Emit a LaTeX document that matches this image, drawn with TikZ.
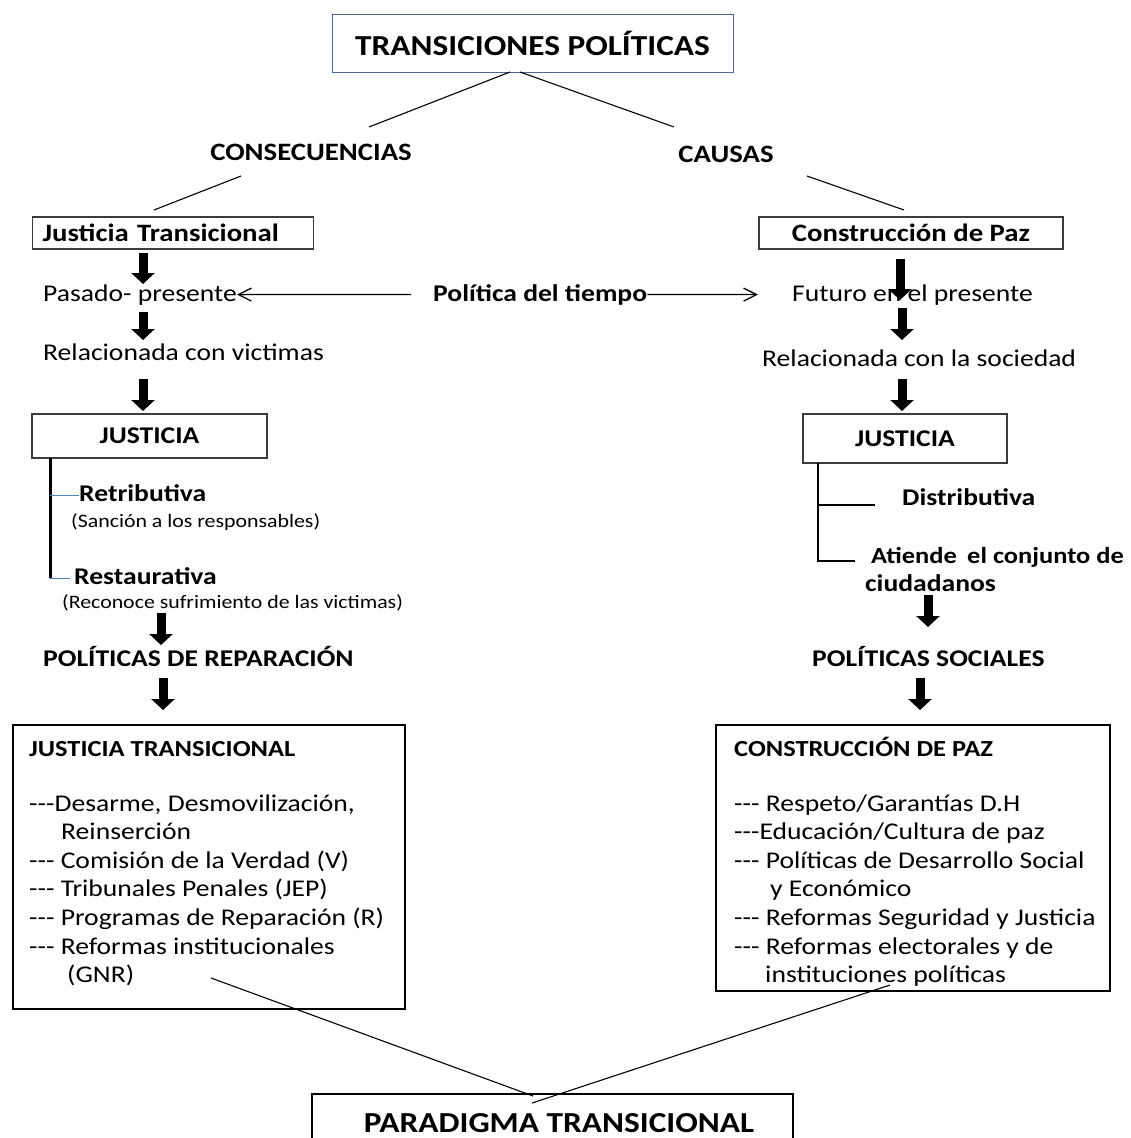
\documentclass[tikz,border=0pt]{standalone}
\usepackage{fontspec}
\setmainfont{Carlito}[Ligatures=TeXOff,FakeStretch=1.15]
\usetikzlibrary{arrows.meta}
\definecolor{tblue}{RGB}{75,105,150}
\definecolor{lblue}{RGB}{79,129,189}
\definecolor{bgray}{RGB}{60,60,60}
\begin{document}
\begin{tikzpicture}[x=1pt,y=-1pt,
  txt/.style={anchor=base west, inner sep=0pt, font=\fontsize{24}{28.6}\selectfont},
  btxt/.style={anchor=base west, inner sep=0pt, font=\bfseries\fontsize{24}{28.6}\selectfont},
  stxt/.style={anchor=base west, inner sep=0pt, font=\fontsize{19}{23}\selectfont},
  ctxt/.style={inner sep=0pt, font=\bfseries\fontsize{25}{30}\selectfont},
  sbox/.style={draw=bgray, line width=1.2pt, inner sep=0pt, font=\bfseries\fontsize{25}{30}\selectfont},
  bigbox/.style={draw=black, line width=1.5pt, inner sep=0pt, anchor=north west},
  bighead/.style={anchor=base west, inner sep=0pt, font=\bfseries\fontsize{23}{28}\selectfont},
  biglist/.style={anchor=base west, inner sep=0pt, font=\fontsize{24}{28.6}\selectfont},
  link/.style={line width=1.1pt},
  blk/.style={line width=9pt, -{Triangle[width=23pt,length=11pt]}},
  tarr/.style={line width=1.3pt, -{Straight Barb[length=13pt,width=13pt,line width=1.3pt]}},
  tree/.style={line width=1.8pt},
  blueline/.style={lblue, line width=1pt}
]
\clip (0,0) rectangle (1130,1138);
\fill[white] (0,0) rectangle (1130,1138);

% title
\node[draw=tblue, line width=1pt, minimum width=401pt, minimum height=58pt, inner sep=0pt,
      font=\bfseries\fontsize{29}{34}\selectfont] (title) at (532.5,43) {TRANSICIONES POLÍTICAS};
\node[ctxt] (cons) at (311,152) {CONSECUENCIAS};
\node[ctxt] (caus) at (726,154) {CAUSAS};

\coordinate (l1a) at (510,72);  \coordinate (l1b) at (369,127);
\coordinate (l2a) at (520,72);  \coordinate (l2b) at (674,127);
\coordinate (l3a) at (241,176); \coordinate (l3b) at (154,210);
\coordinate (l4a) at (807,176); \coordinate (l4b) at (904,210);
\draw[link] (l1a) -- (l1b);
\draw[link] (l2a) -- (l2b);
\draw[link] (l3a) -- (l3b);
\draw[link] (l4a) -- (l4b);

% second level boxes
\node[sbox, anchor=west, minimum width=281pt, minimum height=32pt, text width=261pt, align=left, inner xsep=10pt] (jt) at (32,233) {Justicia Transicional};
\node[sbox, minimum width=304pt, minimum height=32pt] (cp) at (911,233) {Construcción de Paz};

% time row
\node[txt] (pas) at (43,301) {Pasado- presente};
\node[btxt] (pol) at (433,301) {Política del tiempo};
\node[txt] (fut) at (792,301) {Futuro en el presente};
\draw[tarr] ([xshift=-22pt]pol.west) -- (pas.east);
\draw[tarr] (pol.east) -- ([xshift=-34pt]fut.west);

\node[txt] (relv) at (43,360) {Relacionada con victimas};
\node[txt] (rels) at (762,366) {Relacionada con la sociedad};

% justicia boxes
\node[sbox, font=\bfseries\fontsize{24}{28}\selectfont, minimum width=235pt, minimum height=44pt] (jl) at (149.5,436) {JUSTICIA};
\node[sbox, font=\bfseries\fontsize{24}{28}\selectfont, minimum width=204pt, minimum height=49pt] (jr) at (905,438.5) {JUSTICIA};

% left tree
\node[btxt] (ret) at (79,501) {Retributiva};
\node[stxt] (sanc) at (71,527) {(Sanción a los responsables)};
\node[btxt] (res) at (74,584) {Restaurativa};
\node[stxt] (reco) at (62,608) {(Reconoce sufrimiento de las victimas)};
\coordinate (vl1) at (50,458); \coordinate (vl2) at (50,578);
\draw[line width=3pt] (vl1) -- (vl2);
\draw[blueline] (50,495) -- (79,495);
\draw[blueline] (vl2) -- (70,578);
\node[btxt] (prep) at (43,666) {POLÍTICAS DE REPARACIÓN};

% right tree
\node[btxt] (dist) at (902,505) {Distributiva};
\node[btxt, font=\bfseries\fontsize{23}{28}\selectfont] (ati) at (871,563) {Atiende\hspace{0.45em}el conjunto de};
\node[btxt] (ciu) at (865,591) {ciudadanos};
\coordinate (vr1) at (818,463); \coordinate (vr2) at (818,561);
\draw[tree] (vr1) -- (vr2) -- (855,561);
\draw[tree] (818,505) -- (875,505);
\node[btxt] (psoc) at (812,666) {POLÍTICAS SOCIALES};

% big boxes
\node[bigbox, minimum width=392pt, minimum height=284pt] (lb) at (12,724) {};
\node[bighead] (lbh) at (29,756) {JUSTICIA TRANSICIONAL};
\node[biglist] (lbl) at (29,811) {\begin{tabular}[t]{@{}l@{}}---Desarme, Desmovilización,\\
\hspace*{32pt}Reinserción\\
--- Comisión de la Verdad (V)\\
--- Tribunales Penales (JEP)\\
--- Programas de Reparación (R)\\
--- Reformas institucionales\\
\hspace*{38pt}(GNR)\end{tabular}};

\node[bigbox, minimum width=394pt, minimum height=266pt] (rb) at (715,724) {};
\node[bighead] (rbh) at (734,756) {CONSTRUCCIÓN DE PAZ};
\node[biglist] (rbl) at (734,811) {\begin{tabular}[t]{@{}l@{}}--- Respeto/Garantías D.H\\
---Educación/Cultura de paz\\
--- Políticas de Desarrollo Social\\
\hspace*{36pt}y Económico\\
--- Reformas Seguridad y Justicia\\
--- Reformas electorales y de\\
\hspace*{31pt}instituciones políticas\end{tabular}};

% bottom
\node[draw=black, line width=1.5pt, minimum width=481pt, minimum height=60pt, inner sep=0pt] (parbox) at (552.5,1124) {};
\node[inner sep=0pt, font=\bfseries\fontsize{29}{34}\selectfont] (par) at (559,1123) {PARADIGMA TRANSICIONAL};
\coordinate (b1a) at (211,978); \coordinate (b1b) at (533,1096);
\coordinate (b2a) at (890,985); \coordinate (b2b) at (532,1103);
\draw[link] (b1a) -- (b1b);
\draw[link] (b2a) -- (b2b);

% block arrows
\coordinate (a1s) at (143,253); \coordinate (a1e) at (143,284);
\coordinate (a2s) at (143,312); \coordinate (a2e) at (143,340);
\coordinate (a3s) at (143,379); \coordinate (a3e) at (143,411);
\coordinate (a4s) at (900,259); \coordinate (a4e) at (900,300);
\coordinate (a5s) at (902,308); \coordinate (a5e) at (902,340);
\coordinate (a6s) at (902,379); \coordinate (a6e) at (902,411);
\coordinate (a7s) at (161,613); \coordinate (a7e) at (161,645);
\coordinate (a8s) at (163,678); \coordinate (a8e) at (163,710);
\coordinate (a9s) at (928,595); \coordinate (a9e) at (928,627);
\coordinate (a10s) at (920,678); \coordinate (a10e) at (920,710);
\foreach \i in {1,...,10}{\draw[blk] (a\i s) -- (a\i e);}
\end{tikzpicture}
\end{document}
